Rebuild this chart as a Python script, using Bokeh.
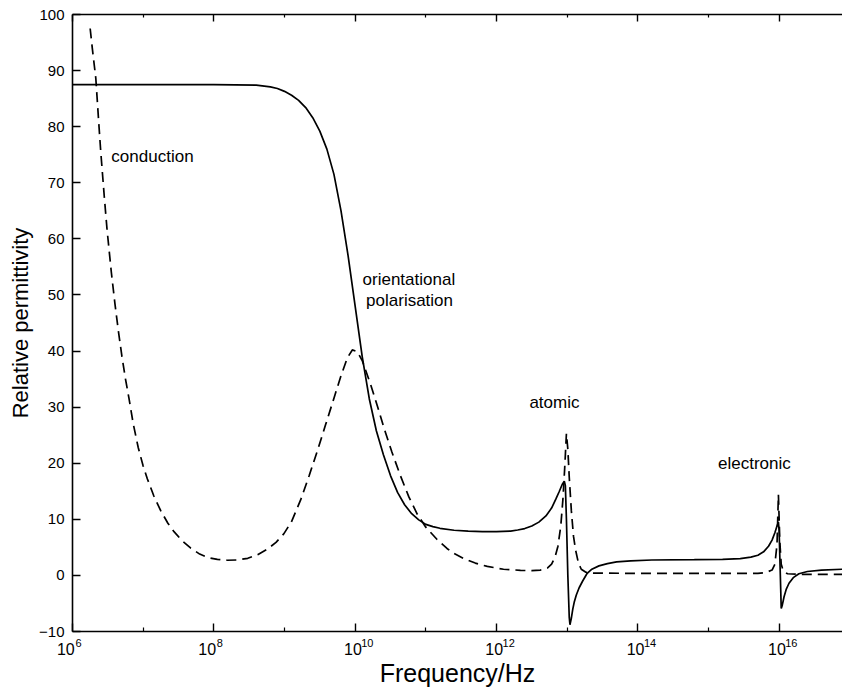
from bokeh.plotting import figure
from bokeh.models import FixedTicker, LogAxis, Range1d, CustomJSTickFormatter
from bokeh.core.properties import value
from bokeh.embed import file_html
from bokeh.resources import INLINE

# ---- data (log10 of frequency in Hz, relative permittivity) ----
real_logf = [6.0, 7.0, 8.0, 8.6, 8.8, 8.9, 9.0, 9.1, 9.2, 9.3, 9.4, 9.5, 9.6, 9.7, 9.8, 9.9,
             10.0, 10.1, 10.2, 10.3, 10.4, 10.5, 10.6, 10.7, 10.8, 10.9, 11.0, 11.1, 11.2,
             11.4, 11.6, 11.8, 12.0, 12.2, 12.3, 12.4, 12.5, 12.6, 12.7, 12.78, 12.84, 12.89,
             12.93, 12.96, 12.975, 12.99, 13.01, 13.03, 13.04, 13.06, 13.08, 13.1, 13.13,
             13.17, 13.22, 13.28, 13.35, 13.45, 13.57, 13.7, 13.9, 14.2, 14.8, 15.2, 15.45,
             15.6, 15.7, 15.78, 15.85, 15.9, 15.94, 15.97, 15.99, 16.0, 16.015, 16.03, 16.045,
             16.07, 16.1, 16.14, 16.2, 16.28, 16.4, 16.6, 16.9]
real_eps = [87.5, 87.5, 87.5, 87.4, 87.1, 86.8, 86.3, 85.6, 84.7, 83.4, 81.6, 79.2, 76.0, 71.5,
            65.0, 57.0, 48.0, 39.0, 31.5, 25.8, 21.5, 17.8, 14.8, 12.6, 11.0, 9.9, 9.1, 8.7,
            8.4, 8.05, 7.9, 7.8, 7.8, 7.9, 8.1, 8.35, 8.8, 9.5, 10.6, 12.0, 13.6, 15.0,
            16.2, 16.8, 16.0, 10.0, 0.0, -7.5, -8.8, -7.6, -6.0, -4.8, -3.5,
            -2.2, -1.0, 0.3, 1.1, 1.7, 2.1, 2.4, 2.6, 2.75, 2.8, 2.85, 3.0,
            3.25, 3.6, 4.2, 5.2, 6.3, 7.6, 8.8, 9.5, 8.0, 1.0, -5.9, -5.3,
            -3.8, -2.5, -1.4, -0.4, 0.3, 0.7, 0.95, 1.1]

imag_logf = [6.25, 6.28, 6.33, 6.37, 6.40, 6.45, 6.49, 6.55, 6.6, 6.65, 6.7, 6.75, 6.8, 6.86,
             6.93, 7.0, 7.06, 7.15, 7.25, 7.35, 7.43, 7.55, 7.67, 7.8, 7.91, 8.05, 8.19,
             8.33, 8.48, 8.62, 8.76, 8.88, 8.99, 9.1, 9.23, 9.35, 9.47, 9.58, 9.7, 9.8,
             9.89, 9.96, 10.03, 10.1, 10.22, 10.32, 10.41, 10.52, 10.64, 10.76, 10.88, 11.0,
             11.16, 11.3, 11.4, 11.54, 11.7, 11.87, 12.1, 12.34, 12.5, 12.62, 12.72, 12.78,
             12.83, 12.87, 12.91, 12.94, 12.965, 12.99, 13.01, 13.03, 13.06, 13.09, 13.12,
             13.16, 13.2, 13.26, 13.35, 14.5, 15.7, 15.82, 15.9, 15.94, 15.97, 15.99, 16.01,
             16.03, 16.06, 16.12, 16.3, 16.9]
imag_eps = [97.5, 94.0, 88.6, 81.0, 75.5, 67.5, 61.5, 54.0, 48.5, 43.5, 39.0, 35.0, 31.5, 27.0,
            22.8, 19.5, 17.2, 14.2, 11.5, 9.3, 7.9, 6.2, 4.9, 3.8, 3.2, 2.85, 2.7,
            2.75, 3.05, 3.7, 4.7, 5.9, 7.4, 9.6, 13.5, 17.8, 22.4, 26.8, 31.6, 35.6,
            38.8, 40.2, 39.9, 38.3, 34.0, 30.0, 26.2, 22.0, 17.8, 14.0, 10.9, 8.6,
            6.4, 4.8, 3.9, 3.0, 2.2, 1.6, 1.1, 0.9, 0.85, 0.95, 1.3, 2.0,
            3.3, 5.2, 8.8, 13.5, 19.0, 25.3, 22.5, 17.5, 11.5, 7.0, 4.5,
            2.2, 1.1, 0.6, 0.4, 0.35, 0.35, 0.55, 0.95, 2.0, 5.5, 14.4, 6.0,
            2.0, 0.7, 0.3, 0.2, 0.2]

major_exp = [6, 8, 10, 12, 14, 16]
minor_exp = [7, 9, 11, 13, 15]
y_ticks = [-10, 0, 10, 20, 30, 40, 50, 60, 70, 80, 90, 100]

note_text = ["conduction", "orientational", "polarisation", "atomic", "electronic"]
note_logf = [6.55, 10.76, 10.77, 12.82, 15.65]
note_eps = [74.7, 52.8, 49.0, 30.8, 20.0]
note_align = ["left", "center", "center", "center", "center"]

# ---- figure ----
FONT = "Liberation Sans"
NB = "\u00a0"
x_end_exp = 16.897

p = figure(width=842, height=689, x_axis_type="log",
           x_range=Range1d(10 ** 6, 10 ** x_end_exp), y_range=Range1d(-10, 100),
           output_backend="svg", toolbar_location=None,
           min_border_left=72, min_border_right=0, min_border_top=14, min_border_bottom=58)
p.background_fill_color = "white"
p.border_fill_color = "white"
p.outline_line_color = None
p.xgrid.visible = False
p.ygrid.visible = False

major_ticks = [10.0 ** e for e in major_exp]
minor_ticks = [10.0 ** e for e in minor_exp]

# nearest axis: line, inward ticks and the raised exponents of the labels
xa = p.xaxis[0]
xa.ticker = FixedTicker(ticks=major_ticks, minor_ticks=minor_ticks)
xa.major_label_overrides = {t: NB * (4 if e < 10 else 8) + str(e)
                            for t, e in zip(major_ticks, major_exp)}
xa.major_label_standoff = 5
xa.major_label_text_font = FONT
xa.major_label_text_font_size = "11px"
xa.major_label_text_color = "black"
xa.major_tick_in = 8
xa.major_tick_out = 0
xa.minor_tick_in = 4
xa.minor_tick_out = 0
xa.axis_line_width = 1.6
xa.major_tick_line_width = 1.4
xa.minor_tick_line_width = 1.2

# second axis: the "10" base of each label and the axis title
xb = LogAxis(ticker=FixedTicker(ticks=major_ticks, minor_ticks=minor_ticks))
xb.major_label_overrides = {t: "10" + NB * (3 if e < 10 else 1)
                            for t, e in zip(major_ticks, major_exp)}
xb.axis_line_color = None
xb.major_tick_line_color = None
xb.minor_tick_line_color = None
xb.major_tick_in = 0
xb.major_tick_out = 0
xb.minor_tick_in = 0
xb.minor_tick_out = 0
xb.major_label_standoff = -11
xb.major_label_text_font = FONT
xb.major_label_text_font_size = "16px"
xb.major_label_text_color = "black"
xb.axis_label = "Frequency/Hz"
xb.axis_label_text_font = FONT
xb.axis_label_text_font_size = "25px"
xb.axis_label_text_font_style = "normal"
xb.axis_label_text_color = "black"
xb.axis_label_standoff = -2
p.add_layout(xb, "below")

ya = p.yaxis[0]
ya.ticker = FixedTicker(ticks=y_ticks, minor_ticks=[])
ya.major_label_overrides = {-10: "\u221210"}
ya.major_tick_in = 8
ya.major_tick_out = 0
ya.minor_tick_in = 0
ya.minor_tick_out = 0
ya.axis_line_width = 1.6
ya.major_tick_line_width = 1.4
ya.major_label_standoff = 8
ya.major_label_text_font = FONT
ya.major_label_text_font_size = "15px"
ya.major_label_text_color = "black"
ya.axis_label = "Relative permittivity"
ya.axis_label_text_font = FONT
ya.axis_label_text_font_size = "22px"
ya.axis_label_text_font_style = "normal"
ya.axis_label_text_color = "black"
ya.axis_label_standoff = 3

top = LogAxis(ticker=FixedTicker(ticks=major_ticks, minor_ticks=minor_ticks),
              formatter=CustomJSTickFormatter(code="return ''"),
              major_label_text_font_size="0px", major_label_standoff=0,
              major_tick_in=7, major_tick_out=0, minor_tick_in=3, minor_tick_out=0,
              axis_line_width=1.6, major_tick_line_width=1.4, minor_tick_line_width=1.2)
p.add_layout(top, "above")

# ---- curves ----
p.line([10.0 ** e for e in real_logf], real_eps, line_color="black", line_width=1.7)
p.line([10.0 ** e for e in imag_logf], imag_eps, line_color="black", line_width=1.7,
       line_dash="10 6")

p.text(x=[10.0 ** e for e in note_logf], y=note_eps, text=note_text,
       text_font=value(FONT), text_font_size=value("17px"), text_color="black",
       text_align=note_align, text_baseline="middle")

open("out.html", "w").write(file_html(p, INLINE))
